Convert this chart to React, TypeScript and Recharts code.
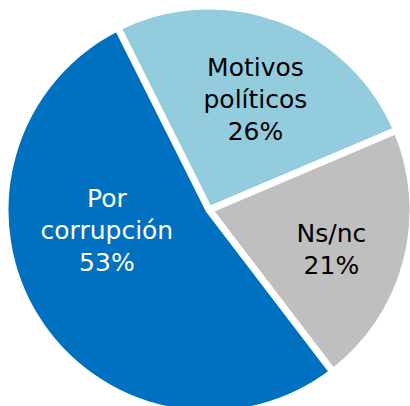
import { PieChart, Pie, Cell } from "recharts";

const categories = ["Motivos políticos", "Ns/nc", "Por corrupción"];
const labelLines = [["Motivos", "políticos"], ["Ns/nc"], ["Por", "corrupción"]];
const values = [26, 21, 53];
const colors = ["#93CDDD", "#BFBFBF", "#0070C0"];
const textColors = ["#000000", "#000000", "#FFFFFF"];

// label placement: fraction of radius, and clockwise shift from slice middle (deg)
const labelRadius = [0.59, 0.63, 0.51];
const labelShift = [2.5, 3, 21];

const data = categories.map((name, i) => ({ name, value: values[i] }));

const RAD = Math.PI / 180;
const FONT = "'DejaVu Sans', sans-serif";
const LINE_H = 32;

function renderLabel(props: any) {
  const { cx, cy, midAngle, outerRadius, index, value } = props;
  const ang = midAngle - labelShift[index];
  const r = outerRadius * labelRadius[index];
  const x = cx + r * Math.cos(-ang * RAD);
  const y = cy + r * Math.sin(-ang * RAD);
  const lines = [...labelLines[index], `${value}%`];
  const top = y - (LINE_H * (lines.length - 1)) / 2;
  return (
    <text
      key={`lbl-${index}`}
      x={x}
      y={top}
      textAnchor="middle"
      dominantBaseline="central"
      fill={textColors[index]}
      fontFamily={FONT}
      fontSize={25}
    >
      {lines.map((t, i) => (
        <tspan key={i} x={x} y={top + i * LINE_H}>
          {t}
        </tspan>
      ))}
    </text>
  );
}

export default function App() {
  return (
    <div style={{ position: "absolute", left: 0, top: 0, width: 410, height: 406, background: "#fff" }}>
      <PieChart width={410} height={406} margin={{ top: 0, right: 0, bottom: 0, left: 0 }}>
        <Pie
          data={data}
          dataKey="value"
          nameKey="name"
          cx={209}
          cy={210}
          outerRadius={204}
          startAngle={116.6}
          endAngle={-243.4}
          stroke="#FFFFFF"
          strokeWidth={7}
          label={renderLabel}
          labelLine={false}
          isAnimationActive={false}
        >
          {data.map((d, i) => (
            <Cell key={d.name} fill={colors[i]} />
          ))}
        </Pie>
      </PieChart>
    </div>
  );
}
